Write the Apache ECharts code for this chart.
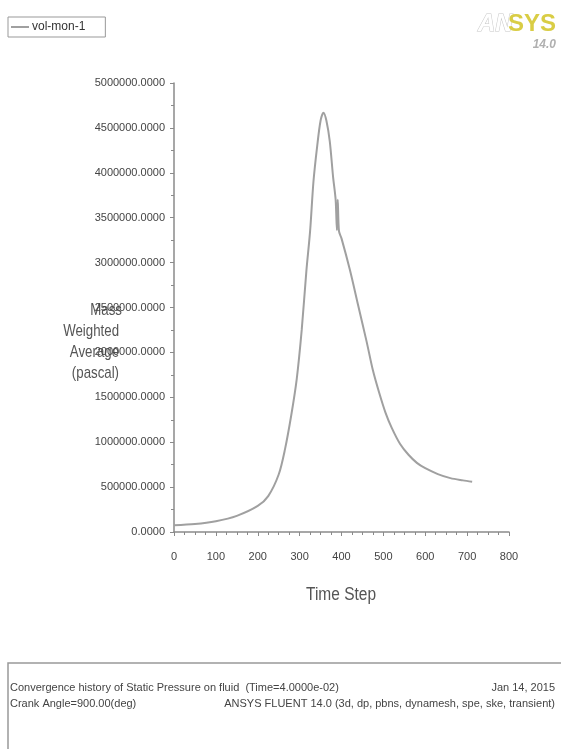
<!DOCTYPE html>
<html>
<head>
<meta charset="utf-8">
<script src="https://cdn.jsdelivr.net/npm/echarts@6/dist/echarts.min.js"></script>
<style>
html,body{margin:0;padding:0;background:#fff;}
#chart{width:561px;height:749px;}
</style>
</head>
<body>
<div id="chart"></div>
<script>
// ---- data ----
var seriesName = 'vol-mon-1';
var timeSteps = [0, 50, 100, 150, 200, 225, 250, 265, 280, 293, 305, 316, 325, 333, 342, 350, 357, 364, 372, 380, 386, 389, 391, 394, 400, 420, 440, 460, 475, 490, 505, 520, 540, 560, 580, 600, 630, 660, 690, 712];
var pressures = [75000, 88000, 120000, 180000, 290000, 400000, 640000, 920000, 1300000, 1700000, 2250000, 2900000, 3350000, 3900000, 4300000, 4580000, 4670000, 4580000, 4350000, 3950000, 3700000, 3360000, 3700000, 3350000, 3270000, 2920000, 2520000, 2120000, 1800000, 1550000, 1330000, 1160000, 980000, 860000, 770000, 710000, 645000, 600000, 575000, 560000];
var xTicks = {min: 0, max: 800, step: 100};
var yTicks = {min: 0, max: 5000000, step: 500000};
var yAxisTitle = ['Mass', 'Weighted', 'Average', '(pascal)'];
var xAxisTitle = 'Time Step';
var footerLeft1 = 'Convergence history of Static Pressure on fluid  (Time=4.0000e-02)';
var footerLeft2 = 'Crank Angle=900.00(deg)';
var footerRight1 = 'Jan 14, 2015';
var footerRight2 = 'ANSYS FLUENT 14.0 (3d, dp, pbns, dynamesh, spe, ske, transient)';

var points = timeSteps.map(function (t, i) { return [t, pressures[i]]; });

var narrow = '"Liberation Sans Narrow", "Arial Narrow", "Liberation Sans", sans-serif';
var axisGrey = '#8a8a8a';
var textGrey = '#444';

var chart = echarts.init(document.getElementById('chart'));
var gridL = 174, gridT = 83, gridW = 335, gridH = 449;

var graphics = [];
yAxisTitle.forEach(function (s, i) {
  graphics.push({
    type: 'text', x: i === 0 ? 122 : 119, y: 302 + i * 21, scaleX: 0.78,
    style: { text: s, fill: '#555', font: '17px ' + narrow, align: 'right', verticalAlign: 'top' }
  });
});
graphics.push(
  { type: 'text', x: 341, y: 586, scaleX: 0.86, style: { text: xAxisTitle, fill: '#555', font: '18px ' + narrow, align: 'center', verticalAlign: 'top' } },
  // ANSYS logo
  { type: 'text', x: 478, y: 12, style: { text: 'AN', fill: '#fff', stroke: '#c8c8c8', lineWidth: 1, font: 'italic bold 24px ' + narrow, align: 'left', verticalAlign: 'top' } },
  { type: 'text', x: 508, y: 12, style: { text: 'SYS', fill: '#d9cd45', font: 'bold 24px ' + narrow, align: 'left', verticalAlign: 'top' } },
  { type: 'text', x: 556, y: 39, style: { text: '14.0', fill: '#b0b0b0', font: 'italic bold 12px ' + narrow, align: 'right', verticalAlign: 'top' } },
  // footer box
  { type: 'rect', shape: { x: 8, y: 663, width: 600, height: 120 }, style: { fill: 'none', stroke: '#999', lineWidth: 1.5 } },
  { type: 'text', x: 10, y: 682, style: { text: footerLeft1, fill: textGrey, font: '11px ' + narrow, align: 'left', verticalAlign: 'top' } },
  { type: 'text', x: 10, y: 698, style: { text: footerLeft2, fill: textGrey, font: '11px ' + narrow, align: 'left', verticalAlign: 'top' } },
  { type: 'text', x: 555, y: 682, style: { text: footerRight1, fill: textGrey, font: '11px ' + narrow, align: 'right', verticalAlign: 'top' } },
  { type: 'text', x: 555, y: 698, style: { text: footerRight2, fill: textGrey, font: '11px ' + narrow, align: 'right', verticalAlign: 'top' } }
);

chart.setOption({
  animation: false,
  backgroundColor: '#fff',
  legend: {
    left: 8, top: 17,
    data: [seriesName],
    borderColor: '#999', borderWidth: 1, borderRadius: 0,
    padding: [4, 20, 4, 3],
    itemWidth: 18, itemHeight: 2, itemGap: 4,
    icon: 'rect',
    textStyle: { fontFamily: narrow, fontSize: 12, color: '#333', padding: [0, 0, 0, -2] }
  },
  grid: { left: gridL, top: gridT, width: gridW, height: gridH, containLabel: false },
  xAxis: {
    type: 'value', min: xTicks.min, max: xTicks.max, interval: xTicks.step,
    axisLine: { show: true, onZero: false, lineStyle: { color: axisGrey, width: 1.5 } },
    axisTick: { show: true, length: 4, lineStyle: { color: axisGrey } },
    minorTick: { show: true, splitNumber: 4, length: 3, lineStyle: { color: axisGrey } },
    splitLine: { show: false },
    axisLabel: { margin: 19, fontFamily: narrow, fontSize: 11, color: textGrey }
  },
  yAxis: {
    type: 'value', min: yTicks.min, max: yTicks.max, interval: yTicks.step,
    axisLine: { show: true, lineStyle: { color: axisGrey, width: 1.5 } },
    axisTick: { show: true, length: 4, lineStyle: { color: axisGrey } },
    minorTick: { show: true, splitNumber: 2, length: 3, lineStyle: { color: axisGrey } },
    splitLine: { show: false },
    axisLabel: { margin: 9, fontFamily: narrow, fontSize: 11, color: textGrey,
      formatter: function (v) { return v.toFixed(4); } }
  },
  series: [{
    name: seriesName, type: 'line', data: points,
    showSymbol: false, smooth: 0.3,
    lineStyle: { color: '#a0a0a0', width: 2 },
    itemStyle: { color: '#a0a0a0' }
  }],
  graphic: graphics
});
</script>
</body>
</html>
